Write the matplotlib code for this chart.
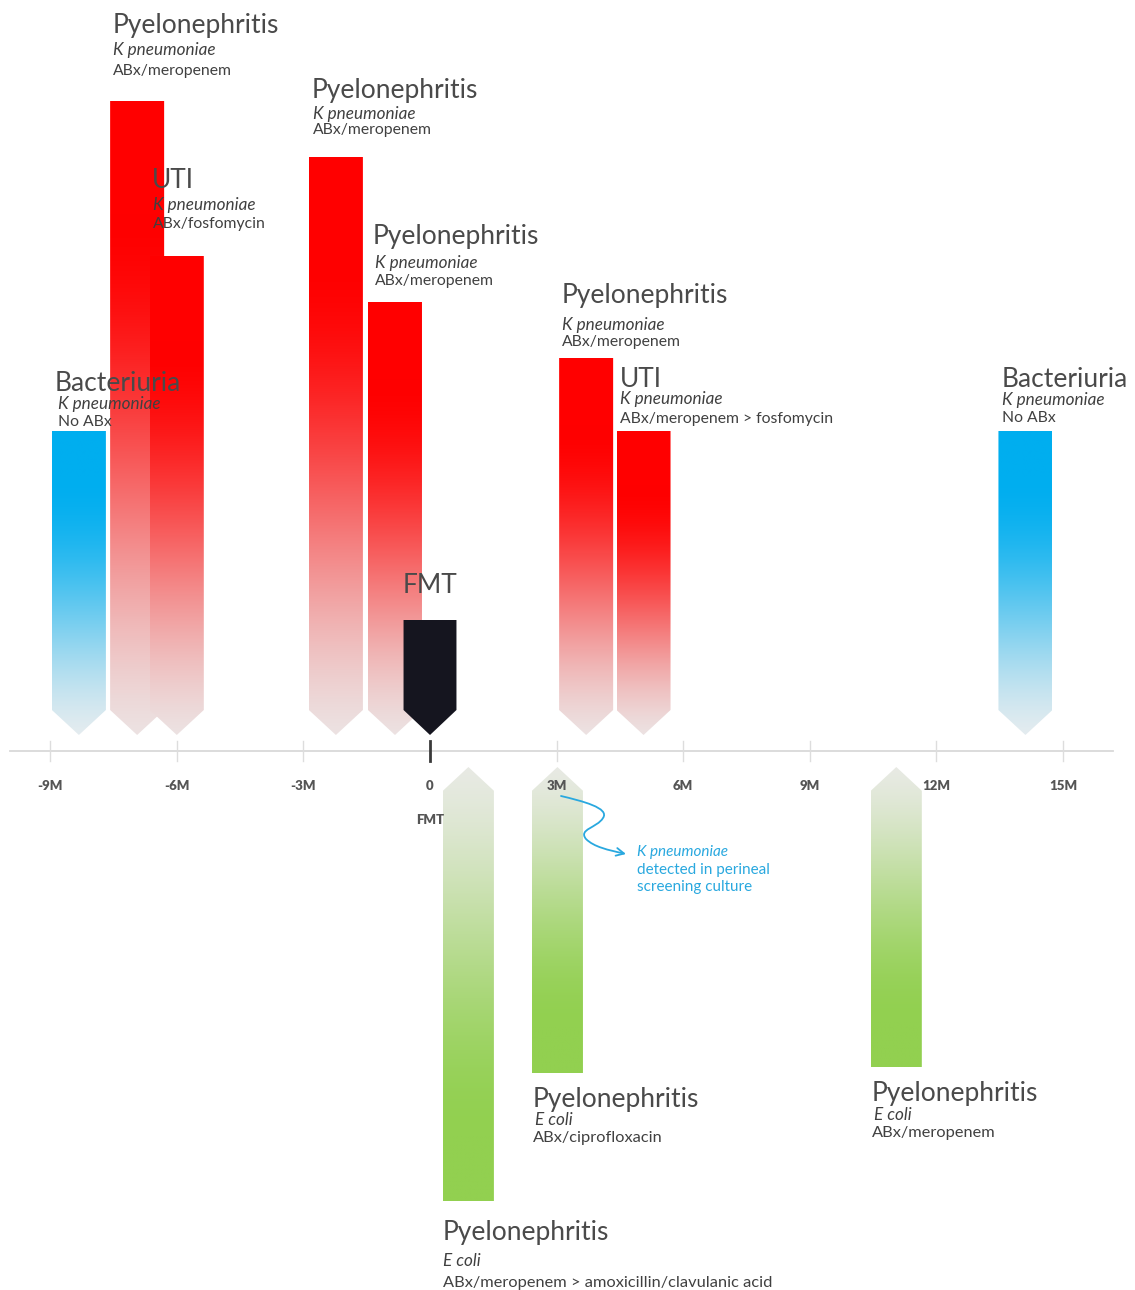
import matplotlib
matplotlib.use('Agg')
import matplotlib.pyplot as plt
import numpy as np
from matplotlib.patches import Polygon, FancyArrowPatch
from matplotlib.path import Path

plt.rcParams['font.family'] = ['Lato', 'DejaVu Sans']

# ---------------- data ----------------
top_events = ['Bacteriuria', 'Pyelonephritis', 'UTI', 'Pyelonephritis',
              'Pyelonephritis', 'Pyelonephritis', 'UTI', 'Bacteriuria']
top_organism = ['K pneumoniae'] * 8
top_abx = ['No ABx', 'ABx/meropenem', 'ABx/fosfomycin', 'ABx/meropenem',
           'ABx/meropenem', 'ABx/meropenem', 'ABx/meropenem > fosfomycin', 'No ABx']
top_month = [-8.32, -6.94, -6.00, -2.23, -0.83, 3.70, 5.06, 14.11]
top_height = [32.0, 65.0, 49.5, 59.4, 44.9, 39.3, 32.0, 32.0]
top_kind = ['colonisation', 'infection', 'infection', 'infection',
            'infection', 'infection', 'infection', 'colonisation']

fmt_label = 'FMT'
fmt_month = 0.0
fmt_height = 13.1

bottom_events = ['Pyelonephritis', 'Pyelonephritis', 'Pyelonephritis']
bottom_organism = ['E coli', 'E coli', 'E coli']
bottom_abx = ['ABx/meropenem > amoxicillin/clavulanic acid', 'ABx/ciprofloxacin', 'ABx/meropenem']
bottom_month = [0.91, 3.02, 11.05]
bottom_depth = [-45.0, -32.2, -31.6]

tick_months = [-9, -6, -3, 0, 3, 6, 9, 12, 15]
tick_labels = ['-9M', '-6M', '-3M', '0', '3M', '6M', '9M', '12M', '15M']

annot_lines = ['K pneumoniae', 'detected in perineal', 'screening culture']

# ---------------- layout helpers ----------------
PX_PER_M = 42.2
X0PX, Y0PX = 430.0, 751.0
def mx(p):
    return (p - X0PX) / PX_PER_M
def my(p):
    return (Y0PX - p) / 10.0

W_TOP = 54 / PX_PER_M
W_BOT = 51 / PX_PER_M
TIP = 1.6
DEPTH = 2.5

fig = plt.figure(figsize=(11.35, 12.9), dpi=100)
ax = fig.add_axes([0, 0, 1, 1])

def grad_image(c_solid, c_light, solid_frac, n=256, solid_at_top=True):
    t = np.linspace(0, 1, n)  # 0 = bottom, 1 = top (origin lower)
    d = 1 - t if solid_at_top else t  # distance from solid end
    f = np.clip((d - solid_frac) / (1 - solid_frac), 0, 1)
    f = 3 * f ** 2 - 2 * f ** 3 * 0.85 - 0.15 * f ** 2  # soft start of the fade
    f = np.clip(f / f.max(), 0, 1)
    c1 = np.array(c_solid) / 255.0
    c2 = np.array(c_light) / 255.0
    rgb = c1[None, :] * (1 - f[:, None]) + c2[None, :] * f[:, None]
    return rgb[:, None, :]

def draw_top(xc, h, width, colors, z):
    x0, x1 = xc - width / 2, xc + width / 2
    sh = TIP + DEPTH
    poly = Polygon([(x0, h), (x1, h), (x1, sh), (xc, TIP), (x0, sh)],
                   closed=True, facecolor='none', edgecolor='none', zorder=z)
    ax.add_patch(poly)
    if colors is None:
        poly.set_facecolor('#15151f')
        return
    img = grad_image(colors[0], colors[1], colors[2], solid_at_top=True)
    im = ax.imshow(img, extent=[x0, x1, TIP, h], origin='lower', aspect='auto',
                   zorder=z, interpolation='bilinear')
    im.set_clip_path(poly)

def draw_bottom(xc, d, width, z):
    x0, x1 = xc - width / 2, xc + width / 2
    sh = -TIP - DEPTH * 0.95
    poly = Polygon([(x0, d), (x1, d), (x1, sh), (xc, -TIP), (x0, sh)],
                   closed=True, facecolor='none', edgecolor='none', zorder=z)
    ax.add_patch(poly)
    img = grad_image((146, 208, 80), (232, 234, 228), 0.15, solid_at_top=False)
    im = ax.imshow(img, extent=[x0, x1, d, -TIP], origin='lower', aspect='auto',
                   zorder=z, interpolation='bilinear')
    im.set_clip_path(poly)

RED = ((255, 0, 0), (236, 226, 226), 0.18)
BLUE = ((0, 174, 239), (228, 236, 240), 0.15)

for i, (m, h, k) in enumerate(zip(top_month, top_height, top_kind)):
    draw_top(m, h, W_TOP, RED if k == 'infection' else BLUE, 2 + i * 0.1)
draw_top(fmt_month, fmt_height, W_TOP * 0.98, None, 3)

for i, (m, d) in enumerate(zip(bottom_month, bottom_depth)):
    draw_bottom(m, d, W_BOT, 2 + i * 0.1)

# axis
ax.plot([mx(10), mx(1113)], [0, 0], color='#d9d9d9', lw=1.3, zorder=1)
for m, lab in zip(tick_months, tick_labels):
    if m == 0:
        ax.plot([m, m], [1.0, -1.0], color='#3a3a3a', lw=2.0, zorder=4)
    else:
        ax.plot([m, m], [1.0, -1.0], color='#dddddd', lw=1.0, zorder=1)
    ax.text(m, my(790), lab, ha='center', va='baseline', fontsize=9.5,
            fontweight='heavy', color='#555555', zorder=6)
ax.text(0, my(824), 'FMT', ha='center', va='baseline', fontsize=9.5,
        fontweight='heavy', color='#555555', zorder=6)

# labels
TITLE_FS = 19
SUB_FS = 11.3
ITAL_FS = 12.3
TITLE_C = '#4a4a4a'
SUB_C = '#404040'

t_x = [55, 113, 152, 312, 373, 562, 620, 1002]
s_x = [58, 113, 153, 313, 375, 562, 620, 1002]
t_b = [391, 33, 188, 98, 244, 303, 387, 387]
o_b = [409, 55, 210, 119, 268, 330, 404, 405]
a_b = [426, 75, 228, 134, 285, 346, 423, 422]
for i in range(len(top_events)):
    ax.text(mx(t_x[i]), my(t_b[i]), top_events[i], fontsize=TITLE_FS, color=TITLE_C,
            va='baseline', ha='left', zorder=10)
    ax.text(mx(s_x[i]), my(o_b[i]), top_organism[i], fontsize=ITAL_FS, color=SUB_C,
            style='italic', va='baseline', ha='left', zorder=10)
    ax.text(mx(s_x[i]), my(a_b[i]), top_abx[i], fontsize=SUB_FS, color=SUB_C,
            va='baseline', ha='left', zorder=10)

ax.text(fmt_month, my(593), fmt_label, fontsize=TITLE_FS, color=TITLE_C,
        va='baseline', ha='center', zorder=10)

bt_x = [443, 533, 872]
bs_x = [443, 535, 874]
bt_b = [1240, 1107, 1101]
bo_b = [1266, 1125, 1120]
ba_b = [1287, 1142, 1137]
for i in range(len(bottom_events)):
    ax.text(mx(bt_x[i]), my(bt_b[i]), bottom_events[i], fontsize=TITLE_FS, color=TITLE_C,
            va='baseline', ha='left', zorder=10)
    ax.text(mx(bs_x[i]), my(bo_b[i]), bottom_organism[i], fontsize=ITAL_FS, color=SUB_C,
            style='italic', va='baseline', ha='left', zorder=10)
    ax.text(mx(bt_x[i]), my(ba_b[i]), bottom_abx[i], fontsize=SUB_FS + 0.5, color=SUB_C,
            va='baseline', ha='left', zorder=10)

# annotation squiggle
BLUE_T = '#29a8df'
pts = [(561, 796), (582, 801), (610, 808), (603, 818),
       (597, 828), (578, 829), (586, 839),
       (594, 847), (608, 850), (626, 854)]
verts = [(mx(a), my(b)) for a, b in pts]
codes = [Path.MOVETO] + [Path.CURVE4] * 9
arrow = FancyArrowPatch(path=Path(verts, codes), arrowstyle='->', mutation_scale=14,
                        color=BLUE_T, lw=1.3, zorder=8)
ax.add_patch(arrow)
for j, (line, yb) in enumerate(zip(annot_lines, [856, 874, 891])):
    ax.text(mx(637), my(yb), line, fontsize=11, color=BLUE_T,
            style='italic' if j == 0 else 'normal', va='baseline', ha='left', zorder=10)

ax.set_xlim(mx(0), mx(1135))
ax.set_ylim(my(1290), my(0))
ax.axis('off')
fig.savefig('out.png', dpi=100, facecolor='white')
